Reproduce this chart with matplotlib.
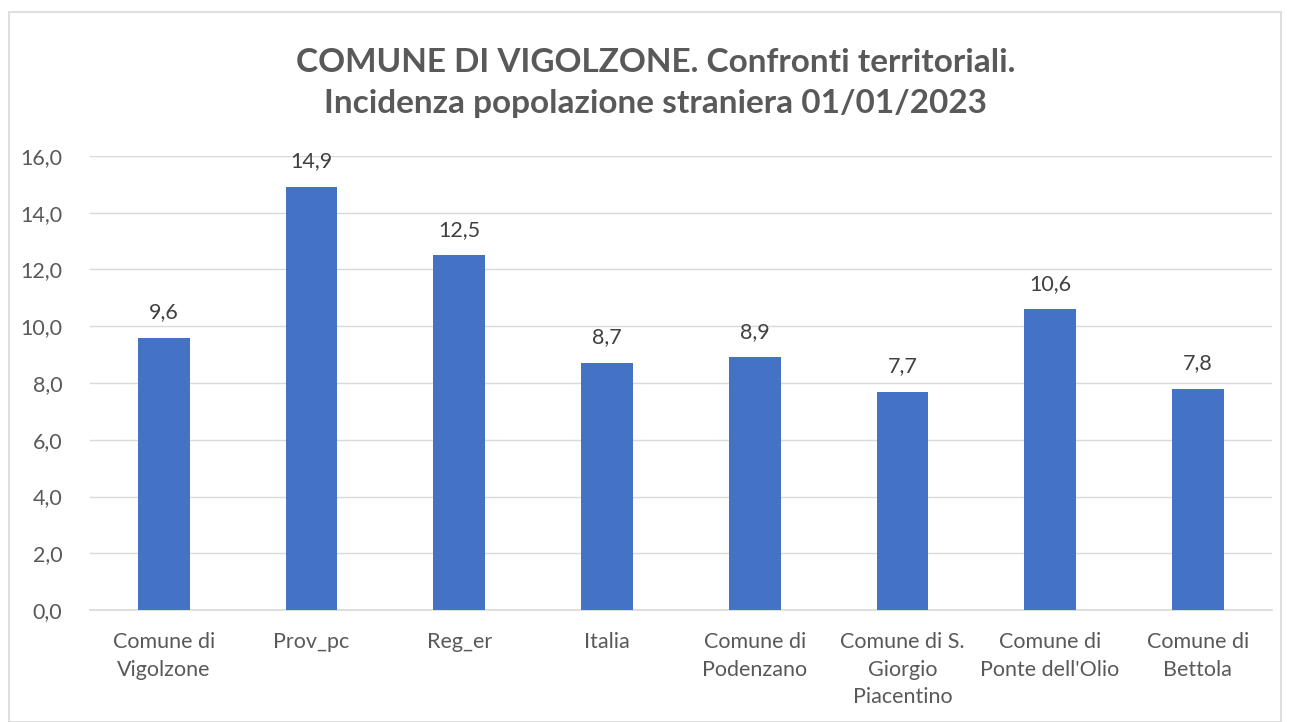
import matplotlib.pyplot as plt
from matplotlib.patches import Rectangle

categories = ["Comune di\nVigolzone", "Prov_pc", "Reg_er", "Italia",
              "Comune di\nPodenzano", "Comune di S.\nGiorgio\nPiacentino",
              "Comune di\nPonte dell'Olio", "Comune di\nBettola"]
values = [9.6, 14.9, 12.5, 8.7, 8.9, 7.7, 10.6, 7.8]
yticks = [0, 2, 4, 6, 8, 10, 12, 14, 16]

plt.rcParams['font.family'] = ['Lato', 'DejaVu Sans']

fig = plt.figure(figsize=(12.9, 7.22), dpi=100)
ax = fig.add_axes([0.0698, 0.155, 0.916, 0.629])

x = range(len(categories))
ax.bar(x, values, width=0.35, color="#4472C4", zorder=3)
for xi, v in zip(x, values):
    ax.text(xi, v + 0.55, f"{v:.1f}".replace(".", ","), ha="center", va="bottom",
            fontsize=15.5, color="#404040")

ax.set_ylim(0, 16)
ax.set_xlim(-0.5, len(categories) - 0.5)
ax.set_yticks(yticks)
ax.set_yticklabels([f"{t:.1f}".replace(".", ",") for t in yticks])
ax.set_xticks(list(x))
ax.set_xticklabels(categories, linespacing=1.45)
ax.tick_params(axis="both", length=0, labelsize=15.5, labelcolor="#595959")
ax.tick_params(axis="x", pad=16)
ax.tick_params(axis="y", pad=20)
ax.grid(axis="y", color="#d9d9d9", linewidth=1, zorder=0)
for s in ["top", "right", "left"]:
    ax.spines[s].set_visible(False)
ax.spines["bottom"].set_color("#d9d9d9")
ax.spines["bottom"].set_linewidth(1.2)

fig.text(0.508, 0.914, "COMUNE DI VIGOLZONE. Confronti territoriali.", ha="center", va="center",
         fontsize=24, fontweight="bold", color="#595959")
fig.text(0.508, 0.856, "Incidenza popolazione straniera 01/01/2023", ha="center", va="center",
         fontsize=24, fontweight="bold", color="#595959")

fig.patches.append(Rectangle((9 / 1290, 0.0), 1 - 18 / 1290, 1 - 12 / 722,
                             transform=fig.transFigure, fill=False,
                             edgecolor="#d9d9d9", linewidth=1.2))

fig.savefig("out.png", dpi=100)
